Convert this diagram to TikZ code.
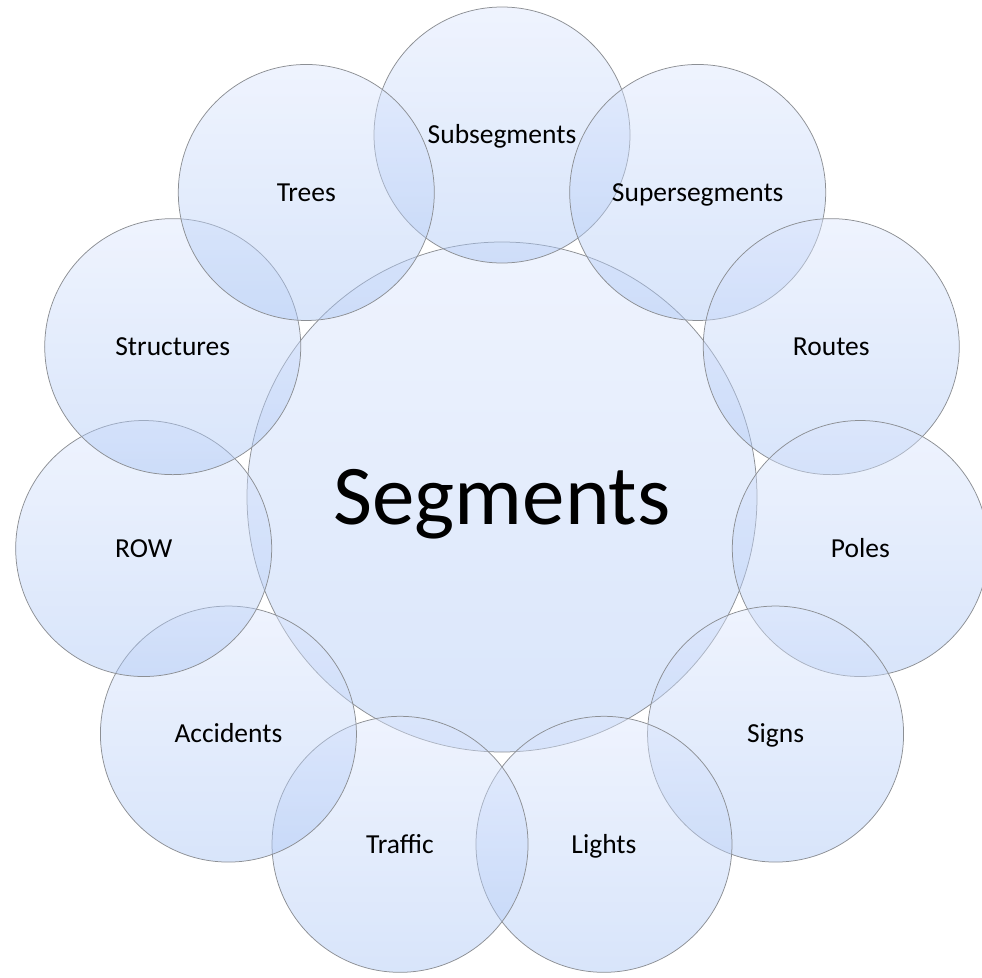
\documentclass[tikz,border=0pt]{standalone}
\usepackage{fontspec}
\setmainfont{Carlito}
\definecolor{bubtop}{rgb}{0.86,0.90,0.99}
\definecolor{bubbot}{rgb}{0.66,0.77,0.96}
\definecolor{bubline}{rgb}{0.55,0.56,0.58}
\tikzset{
  bubble/.style={circle, inner sep=0pt, draw=bubline, line width=0.75pt,
    top color=bubtop, bottom color=bubbot, fill opacity=0.45, draw opacity=1, text opacity=1},
  outerbub/.style={bubble, minimum size=256pt, font=\fontsize{27.5}{33}\selectfont,
    text height=17.7pt, text depth=0pt},
  centerbub/.style={bubble, minimum size=510pt, font=\fontsize{85}{100}\selectfont,
    text height=54.7pt, text depth=0pt}
}
\begin{document}
\begin{tikzpicture}[x=1pt,y=-1pt]
\useasboundingbox (0,0) rectangle (982,977);
\node[centerbub] (seg) at (502,497) {Segments};
\foreach \nm/\lab [count=\k from 0] in {sub/Subsegments, sup/Supersegments, rou/Routes, pol/Poles, sig/Signs, lig/Lights, tra/Traffic, acc/Accidents, row/ROW, str/Structures, tre/Trees}{
  \pgfmathsetmacro{\ang}{90-\k*360/11}
  \node[outerbub] (\nm) at ({502+362*cos(\ang)},{497-362*sin(\ang)}) {\lab};
}
\end{tikzpicture}
\end{document}
